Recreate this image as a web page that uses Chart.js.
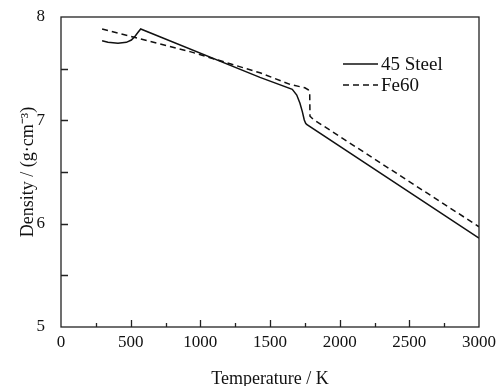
<!DOCTYPE html>
<html>
<head>
<meta charset="utf-8">
<script src="https://cdn.jsdelivr.net/npm/chart.js@4.4.1/dist/chart.umd.min.js"></script>
<style>
  body { margin: 0; background: #fff; }
</style>
</head>
<body>
<canvas id="chart" width="500" height="386"></canvas>
<script>

// values (temperature in K, density in g/cm3)
const steelTemp = [295, 337, 409, 469, 505, 529, 553, 572, 1428, 1660, 1692, 1715, 1732, 1746, 1756, 1763, 3000]
const steelDensity = [7.77, 7.755, 7.745, 7.755, 7.777, 7.81, 7.852, 7.884, 7.416, 7.30, 7.245, 7.165, 7.084, 7.003, 6.971, 6.96, 5.86]

const fe60Temp = [295, 926, 1428, 1650, 1750, 1775, 1785, 1787, 1810, 3000]
const fe60Density = [7.883, 7.665, 7.46, 7.345, 7.315, 7.295, 7.26, 7.04, 7.01, 5.97]

const seriesNames = ["45 Steel", "Fe60"]

const xTicks = [0, 500, 1000, 1500, 2000, 2500, 3000]
const yTicks = [5, 6, 7, 8]

const serif = "'Liberation Serif', 'Times New Roman', serif"
const ink = "#111"

const pair = function(xs, ys) {
    return xs.map((x, i) => ({ x: x, y: ys[i] }))
}

// box round the plot and inward ticks
const frame = {
    id: "frame",
    afterDraw(chart) {
        const { ctx, chartArea: a, scales: { x, y } } = chart
        ctx.save()
        ctx.strokeStyle = "#222"
        ctx.lineWidth = 1.3
        ctx.strokeRect(a.left, a.top, a.right - a.left, a.bottom - a.top)

        ctx.beginPath()
        for (let t = 250; t < 3000; t += 250) {
            const px = Math.round(x.getPixelForValue(t)) + 0.5
            const len = t % 500 === 0 ? 7 : 4
            ctx.moveTo(px, a.bottom)
            ctx.lineTo(px, a.bottom - len)
        }
        for (let d = 5.5; d < 8; d += 0.5) {
            const py = Math.round(y.getPixelForValue(d)) + 0.5
            ctx.moveTo(a.left, py)
            ctx.lineTo(a.left + 7, py)
        }
        ctx.stroke()
        ctx.restore()
    }
}

// legend drawn inside the plot, top right
const legendLines = {
    id: "legendLines",
    afterDraw(chart) {
        const ctx = chart.ctx
        ctx.save()
        ctx.font = "19px " + serif
        ctx.fillStyle = ink
        ctx.textBaseline = "middle"
        chart.data.datasets.forEach((ds, i) => {
            const yy = 64 + i * 21
            ctx.strokeStyle = ds.borderColor
            ctx.lineWidth = ds.borderWidth
            ctx.setLineDash(ds.borderDash || [])
            ctx.beginPath()
            ctx.moveTo(343, yy)
            ctx.lineTo(378, yy)
            ctx.stroke()
            ctx.fillText(ds.label, 381, yy + 1)
        })
        ctx.restore()
    }
}

const ctx = document.getElementById("chart")

new Chart(ctx, {
    type: "line",
    data: {
        datasets: [{
            label: seriesNames[0],
            data: pair(steelTemp, steelDensity),
            borderColor: ink,
            borderWidth: 1.5,
            pointRadius: 0,
            tension: 0
        }, {
            label: seriesNames[1],
            data: pair(fe60Temp, fe60Density),
            borderColor: ink,
            borderWidth: 1.5,
            borderDash: [6, 4],
            pointRadius: 0,
            tension: 0
        }]
    },
    options: {
        responsive: false,
        animation: false,
        layout: { padding: { top: 17, right: 21, left: 0, bottom: 0 } },
        plugins: {
            legend: { display: false },
            tooltip: { enabled: false }
        },
        scales: {
            x: {
                type: "linear",
                min: 0,
                max: 3000,
                afterFit: (s) => {
                    s.height = 59
                    s.paddingLeft = 0
                    s.paddingRight = 0
                },
                afterBuildTicks: (s) => { s.ticks = xTicks.map((v) => ({ value: v })) },
                grid: { display: false, drawTicks: false },
                border: { display: false },
                ticks: {
                    padding: 5,
                    maxRotation: 0,
                    color: ink,
                    font: { family: serif, size: 17 },
                    callback: (v) => String(v)
                },
                title: {
                    display: true,
                    text: "Temperature / K",
                    color: ink,
                    font: { family: serif, size: 18, lineHeight: 0.8 },
                    padding: { top: 0, bottom: 0 }
                }
            },
            y: {
                min: 5,
                max: 8,
                afterFit: (s) => {
                    s.width = 61
                    s.paddingTop = 0
                    s.paddingBottom = 0
                },
                afterBuildTicks: (s) => { s.ticks = yTicks.map((v) => ({ value: v })) },
                grid: { display: false, drawTicks: false },
                border: { display: false },
                ticks: {
                    padding: 16,
                    color: ink,
                    font: { family: serif, size: 17 },
                    callback: (v) => String(v)
                },
                title: {
                    display: true,
                    text: "Density / (g·cm⁻³)",
                    color: ink,
                    font: { family: serif, size: 18, lineHeight: 1 },
                    padding: { top: 19, bottom: 0 }
                }
            }
        }
    },
    plugins: [frame, legendLines]
})
</script>
</body>
</html>
